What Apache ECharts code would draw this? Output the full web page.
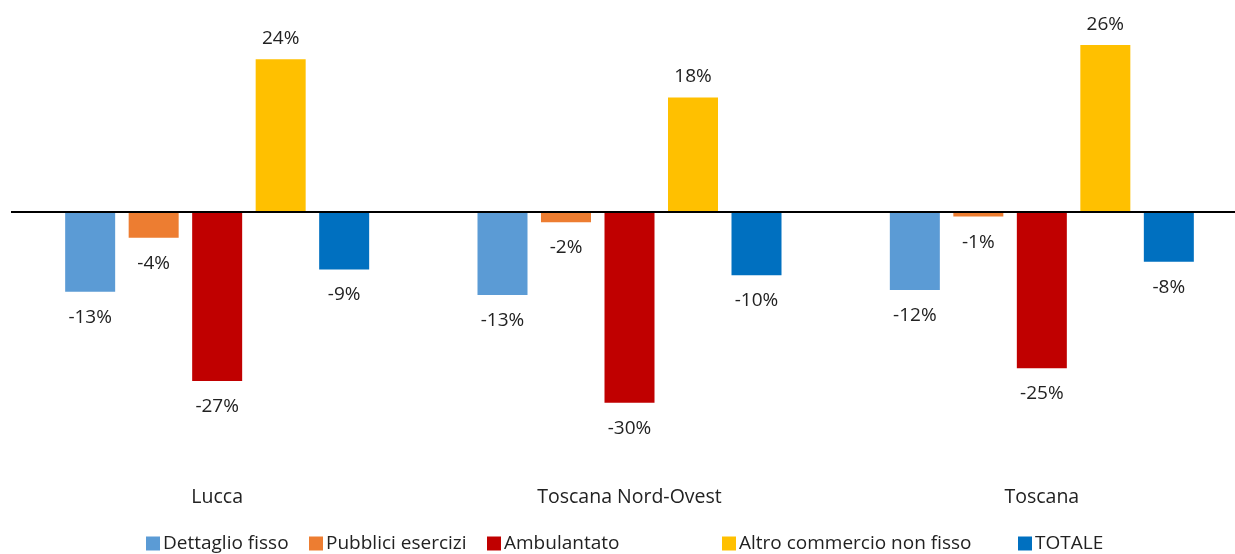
<!DOCTYPE html>
<html lang="it">
<head>
    <meta charset="UTF-8">
    <title>Variazione imprese commercio</title>
    <script src="https://cdn.jsdelivr.net/npm/echarts@6/dist/echarts.min.js"></script>
    <style>
        html, body { margin: 0; padding: 0; background: #fff; overflow: hidden; }
        #chart { width: 1250px; height: 554px; }
    </style>
</head>
<body>
    <div id="chart"></div>
    <script>
        // dati (variazione %)
        const categories = ['Lucca', 'Toscana Nord-Ovest', 'Toscana'];
        const seriesNames = ['Dettaglio fisso', 'Pubblici esercizi', 'Ambulantato', 'Altro commercio non fisso', 'TOTALE'];
        const dettaglioFisso = [-12.6, -13.1, -12.3];
        const pubbliciEsercizi = [-4.1, -1.7, -0.8];
        const ambulantato = [-26.6, -30.0, -24.6];
        const altroCommercio = [23.9, 17.9, 26.1];
        const totale = [-9.1, -10.0, -7.9];
        const colors = ['#5B9BD5', '#ED7D31', '#C00000', '#FFC000', '#0070C0'];

        const FONT = '"Open Sans", sans-serif';
        const TEXT = '#222';
        // posizione orizzontale di ogni voce della legenda
        const legendLeft = [146, 309, 487, 722, 1018];

        function toItems(values) {
            return values.map(v => ({
                value: v,
                label: { distance: v < 0 ? 16 : 11 }
            }));
        }

        const allValues = [dettaglioFisso, pubbliciEsercizi, ambulantato, altroCommercio, totale];

        const series = allValues.map((vals, i) => {
            const s = {
                name: seriesNames[i],
                type: 'bar',
                barWidth: 50,
                barGap: '27%',
                itemStyle: { color: colors[i] },
                data: toItems(vals),
                label: {
                    show: true,
                    position: 'outside',
                    color: TEXT,
                    fontFamily: FONT,
                    fontSize: 19,
                    formatter: p => Math.round(p.value) + '%'
                }
            };
            if (i === 0) {
                // linea dello zero
                s.markLine = {
                    silent: true,
                    symbol: 'none',
                    label: { show: false },
                    lineStyle: { color: '#000', width: 2, type: 'solid' },
                    data: [{ yAxis: 0 }]
                };
            }
            return s;
        });

        const legends = seriesNames.map((name, i) => ({
            left: legendLeft[i],
            top: 534,
            padding: 0,
            itemWidth: 14,
            itemHeight: 14,
            icon: 'rect',
            textStyle: { color: TEXT, fontFamily: FONT, fontSize: 19, padding: [0, 0, 0, -2] },
            data: [name]
        }));

        const chart = echarts.init(document.getElementById('chart'));
        chart.setOption({
            animation: false,
            color: colors,
            legend: legends,
            grid: {
                left: 11,
                width: 1237,
                top: 20.25,
                bottom: 87.5,
                containLabel: false
            },
            xAxis: {
                type: 'category',
                data: categories,
                axisLine: { show: false, onZero: false },
                axisTick: { show: false },
                axisLabel: {
                    color: TEXT,
                    fontFamily: FONT,
                    fontSize: 19.5,
                    margin: 21
                }
            },
            yAxis: {
                type: 'value',
                min: -40,
                max: 30,
                show: false,
                splitLine: { show: false }
            },
            series: series
        });
    </script>
</body>
</html>
